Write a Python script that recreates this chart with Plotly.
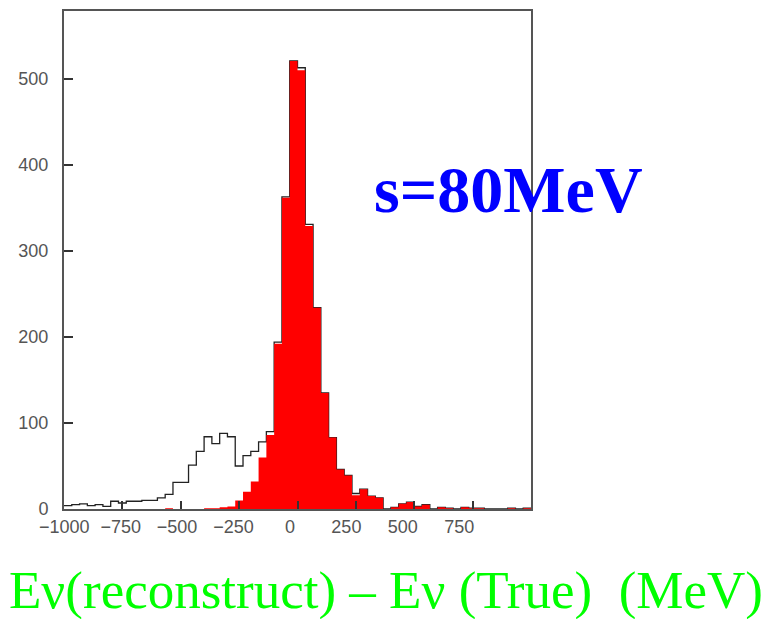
import numpy as np
import plotly.graph_objects as go

# ---- data (60 bins from -1000 to 1000 MeV) ----
bin_low = -1000
bin_high = 1000
n_bins = 60

all_counts = [4, 5, 6, 4, 5, 3, 9, 7, 9, 9,
              10, 10, 13, 17, 31, 31, 51, 67, 84, 76,
              88, 84, 50, 62, 67, 78, 90, 194, 363, 521,
              513, 331, 234, 135, 83, 46, 39, 18, 23, 15,
              13, 0, 2, 6, 8, 3, 5, 0, 2, 1,
              0, 2, 1, 1, 0, 0, 0, 1, 0, 1]

sel_counts = [0, 0, 0, 0, 0, 0, 0, 0, 0, 0,
              0, 0, 0, 1, 0, 0, 0, 0, 1, 1,
              2, 3, 10, 20, 32, 60, 86, 192, 362, 521,
              510, 329, 234, 135, 83, 46, 39, 16, 23, 15,
              13, 0, 2, 6, 8, 3, 5, 0, 2, 1,
              0, 2, 1, 1, 0, 0, 0, 1, 0, 1]

x_tick_vals = [-1000, -750, -500, -250, 0, 250, 500, 750]
y_tick_vals = [0, 100, 200, 300, 400, 500]

sigma_text = "s=80MeV"
x_title = "Eν(reconstruct) – Eν (True)  (MeV)"

# ---- build figure ----
edges = np.linspace(bin_low, bin_high, n_bins + 1)
y_all = list(all_counts) + [all_counts[-1]]
y_sel = list(sel_counts) + [sel_counts[-1]]

fig = go.Figure()
fig.add_trace(go.Scatter(
    x=edges, y=y_all, mode="lines", line_shape="hv",
    line=dict(color="#222222", width=1.3), hoverinfo="skip", showlegend=False))
fig.add_trace(go.Scatter(
    x=edges, y=y_sel, mode="lines", line_shape="hv", fill="tozeroy",
    fillcolor="#ff0000", line=dict(color="rgba(255,0,0,0)", width=0),
    hoverinfo="skip", showlegend=False))
# empty trace so that the label axis (x2) is drawn
fig.add_trace(go.Scatter(x=[None], y=[None], xaxis="x2", yaxis="y",
                         mode="lines", hoverinfo="skip", showlegend=False))

W, H = 776, 619
L, R, T, B = 64, 245, 9, 110

tick_font = dict(family="Liberation Sans, Arial, sans-serif", size=18, color="#555555")

fig.update_layout(
    width=W, height=H,
    margin=dict(l=L, r=R, t=T, b=B, pad=0),
    paper_bgcolor="white", plot_bgcolor="white",
    showlegend=False,
    xaxis=dict(
        range=[bin_low, bin_high], showgrid=False, zeroline=False,
        showline=True, linecolor="#555555", linewidth=2, mirror=True,
        ticks="inside", ticklen=8, tickwidth=1.5, tickcolor="#333333",
        tickvals=x_tick_vals, showticklabels=False,
    ),
    xaxis2=dict(
        range=[-1001, 1068], overlaying="x", side="bottom", anchor="y",
        showgrid=False, zeroline=False, showline=False, ticks="",
        tickvals=x_tick_vals, tickfont=tick_font, ticklabelstandoff=5,
    ),
    yaxis=dict(
        range=[0, 579], showgrid=False, zeroline=False,
        showline=True, linecolor="#555555", linewidth=2, mirror=True,
        ticks="inside", ticklen=9, tickwidth=1.5, tickcolor="#333333",
        tickvals=y_tick_vals, tickfont=tick_font, ticklabelstandoff=10,
    ),
)

fig.add_annotation(
    text=sigma_text, xref="paper", yref="paper", x=0.951, y=0.642,
    xanchor="center", yanchor="middle", showarrow=False,
    font=dict(family="Liberation Serif, Times New Roman, serif", size=66,
              color="#0000ff", weight="bold"),
)
fig.add_annotation(
    text=x_title, xref="paper", yref="paper", x=0.6885, y=-0.164,
    xanchor="center", yanchor="middle", showarrow=False,
    font=dict(family="Liberation Serif, Times New Roman, serif", size=53,
              color="#00ff00"),
)

fig.write_html("out.html", config={"displayModeBar": False},
               post_script="document.body.style.margin='0';")
